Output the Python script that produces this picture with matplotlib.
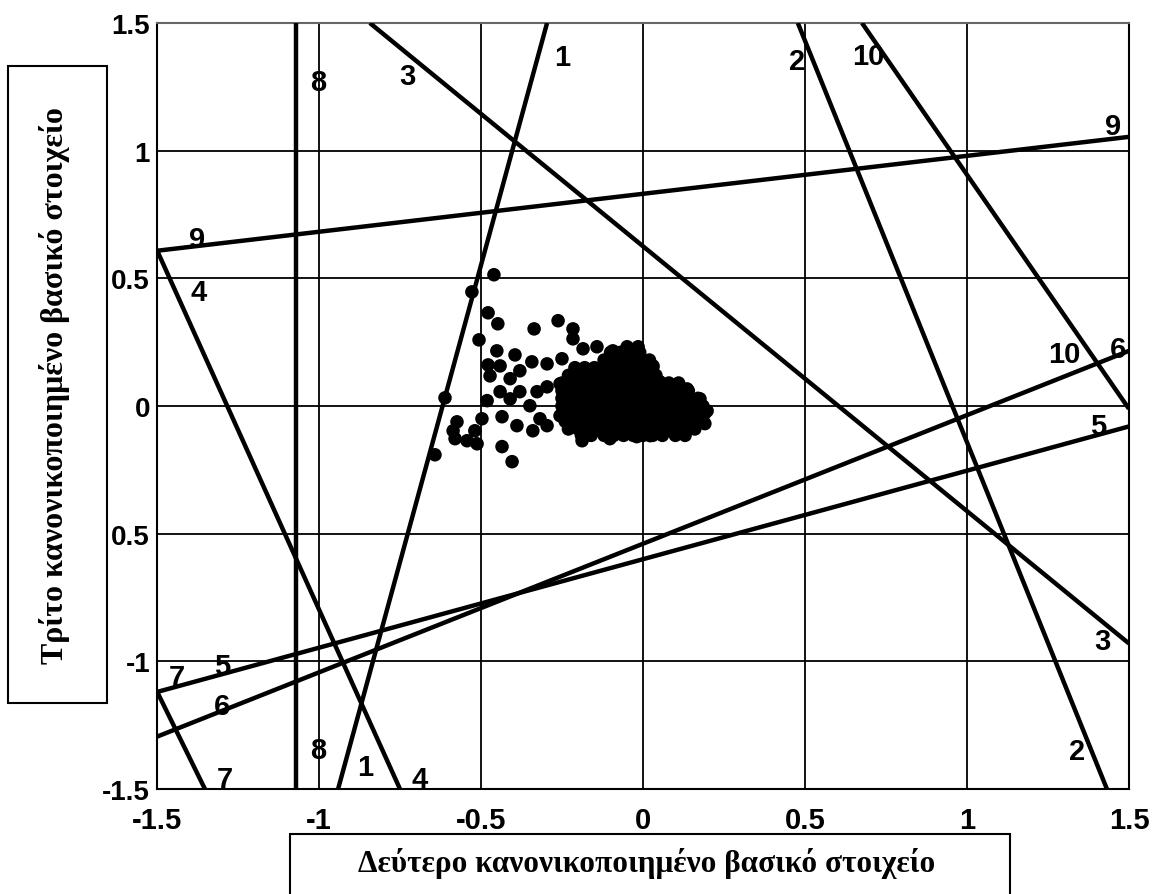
import numpy as np
import matplotlib
matplotlib.use("Agg")
from matplotlib import pyplot as plt
from matplotlib.patches import Rectangle

# boundary lines: x0, y0, x1, y1
line_ids = ["1", "2", "3", "4", "5", "6", "7", "8", "9", "10"]
line_x0 = [-0.941, 0.478, -0.843, -1.5, -1.5, -1.5, -1.5, -1.071, -1.5, 0.676]
line_y0 = [-1.5, 1.5, 1.5, 0.61, -1.12, -1.295, -1.118, -1.5, 0.608, 1.5]
line_x1 = [-0.296, 1.432, 1.5, -0.75, 1.5, 1.5, -1.352, -1.071, 1.5, 1.5]
line_y1 = [1.5, -1.5, -0.93, -1.5, -0.08, 0.216, -1.5, 1.5, 1.054, -0.011]

# line labels
lab_text = ["1", "1", "2", "2", "3", "3", "4", "4", "5", "5",
            "6", "6", "7", "7", "8", "8", "9", "9", "10", "10"]
lab_x = [-0.250, -0.858, 0.475, 1.340, -0.728, 1.417, -1.373, -0.688, -1.299, 1.404,
         -1.299, 1.466, -1.438, -1.290, -1.003, -1.003, -1.377, 1.451, 0.694, 1.302]
lab_y = [1.367, -1.412, 1.351, -1.353, 1.293, -0.919, 0.447, -1.459, -1.017, -0.077,
         -1.173, 0.224, -1.060, -1.459, 1.269, -1.349, 0.655, 1.097, 1.371, 0.204]

# scattered cases (outer points)
pts_x = [-0.460, -0.528, -0.478, -0.448, -0.506, -0.336, -0.262, -0.216, -0.451, -0.395,
         -0.478, -0.441, -0.472, -0.611, -0.481, -0.441, -0.410, -0.380, -0.343, -0.296,
         -0.250, -0.296, -0.256, -0.380, -0.410, -0.349, -0.327, -0.497, -0.435, -0.389,
         -0.574, -0.586, -0.580, -0.543, -0.519, -0.512, -0.435, -0.404, -0.642, -0.340,
         -0.318, -0.296, -0.256, -0.225, -0.204, -0.216, -0.185, -0.142, -0.093, -0.049,
         -0.015, 0.031, -0.188, -0.102, -0.019, 0.022, 0.136, 0.191, 0.198, 0.176,
         0.136, 0.093, 0.052, -0.117, -0.154, -0.204, -0.173]
pts_y = [0.514, 0.447, 0.365, 0.322, 0.259, 0.302, 0.334, 0.302, 0.216, 0.200,
         0.161, 0.157, 0.118, 0.032, 0.021, 0.056, 0.107, 0.138, 0.173, 0.165,
         0.185, 0.075, 0.087, 0.056, 0.028, 0.001, 0.056, -0.050, -0.042, -0.077,
         -0.062, -0.097, -0.128, -0.136, -0.097, -0.148, -0.159, -0.218, -0.191, -0.097,
         -0.050, -0.077, -0.038, 0.017, 0.118, 0.263, 0.224, 0.232, 0.216, 0.232,
         0.232, 0.157, -0.136, -0.128, -0.120, -0.116, -0.089, -0.069, -0.019, 0.028,
         0.067, 0.079, 0.095, 0.146, 0.118, 0.134, 0.056]

# dense core of cases, read row by row (y: list of x)
core_rows = {
    0.21: [-0.10, -0.07, -0.04, -0.01],
    0.18: [-0.12, -0.09, -0.06, -0.03, 0.00, 0.02],
    0.15: [-0.21, -0.18, -0.15, -0.12, -0.09, -0.06, -0.03, 0.00, 0.03],
    0.12: [-0.23, -0.20, -0.17, -0.14, -0.11, -0.08, -0.05, -0.02, 0.01, 0.04],
    0.09: [-0.25, -0.22, -0.19, -0.16, -0.13, -0.10, -0.07, -0.04, -0.01, 0.02, 0.05,
           0.08, 0.11],
    0.06: [-0.25, -0.22, -0.19, -0.16, -0.13, -0.10, -0.07, -0.04, -0.01, 0.02, 0.05,
           0.08, 0.11, 0.14],
    0.03: [-0.25, -0.22, -0.19, -0.16, -0.13, -0.10, -0.07, -0.04, -0.01, 0.02, 0.05,
           0.08, 0.11, 0.14, 0.17],
    0.00: [-0.25, -0.22, -0.19, -0.16, -0.13, -0.10, -0.07, -0.04, -0.01, 0.02, 0.05,
           0.08, 0.11, 0.14, 0.17, 0.185],
    -0.03: [-0.25, -0.22, -0.19, -0.16, -0.13, -0.10, -0.07, -0.04, -0.01, 0.02, 0.05,
            0.08, 0.11, 0.14, 0.17, 0.19],
    -0.06: [-0.24, -0.21, -0.18, -0.15, -0.12, -0.09, -0.06, -0.03, 0.00, 0.03, 0.06,
            0.09, 0.12, 0.15, 0.18],
    -0.09: [-0.23, -0.20, -0.17, -0.14, -0.11, -0.08, -0.05, -0.02, 0.01, 0.04, 0.07,
            0.10, 0.13, 0.16],
    -0.115: [-0.19, -0.16, -0.12, -0.09, -0.06, -0.03, 0.00, 0.03, 0.06, 0.10, 0.13],
}

ticks = [-1.5, -1, -0.5, 0, 0.5, 1, 1.5]
xtick_labels = ["-1.5", "-1", "-0.5", "0", "0.5", "1", "1.5"]
ytick_labels = ["-1.5", "-1", "0.5", "0", "0.5", "1", "1.5"]

xlabel = "Δεύτερο κανονικοποιημένο βασικό στοιχείο"
ylabel = "Τρίτο κανονικοποιημένο βασικό στοιχείο"

sans = "Liberation Sans"
serif = "Liberation Serif"

fig = plt.figure(figsize=(11.56, 8.95), dpi=100)
ax = fig.add_axes([0.1358, 0.1173, 0.8408, 0.8559])
ax.set_xlim(-1.5, 1.5)
ax.set_ylim(-1.5, 1.5)

for t in ticks:
    ax.axvline(t, color="black", lw=1.3, zorder=1)
    ax.axhline(t, color="black", lw=1.3, zorder=1)

for i in range(len(line_ids)):
    ax.plot([line_x0[i], line_x1[i]], [line_y0[i], line_y1[i]],
            color="black", lw=3.2, solid_capstyle="butt", zorder=3)

cx, cy = [], []
for yv, xs in core_rows.items():
    for xv in xs:
        cx.append(xv)
        cy.append(yv)
ax.scatter(pts_x + cx, pts_y + cy, s=95, color="black", edgecolors="none", zorder=4)

for t, x, y in zip(lab_text, lab_x, lab_y):
    ax.text(x, y, t, ha="center", va="center", fontsize=21, fontweight="bold",
            family=sans, zorder=5)

ax.set_xticks(ticks)
ax.set_xticklabels(xtick_labels, fontsize=21, fontweight="bold", family=sans)
ax.set_yticks(ticks)
ax.set_yticklabels(ytick_labels, fontsize=20, fontweight="bold", family=sans)
ax.tick_params(length=0)
ax.tick_params(axis="x", pad=12)
ax.tick_params(axis="y", pad=5)
for s in ax.spines.values():
    s.set_linewidth(1.5)
    s.set_color("black")
ax.spines["top"].set_color("#666666")

# label boxes
fig.patches.append(Rectangle((0.0069, 0.2134), 0.0856, 0.7117, transform=fig.transFigure,
                             fill=False, edgecolor="black", lw=1.5))
fig.patches.append(Rectangle((0.2509, -0.02), 0.6228, 0.087, transform=fig.transFigure,
                             fill=False, edgecolor="black", lw=1.5))
fig.text(0.0475, 0.569, ylabel, rotation=90, ha="center", va="center",
         fontsize=23, fontweight="bold", family=serif)
fig.text(0.5597, 0.035, xlabel, ha="center", va="center",
         fontsize=22.5, fontweight="bold", family=serif)

fig.savefig("out.png", dpi=100, facecolor="white")
